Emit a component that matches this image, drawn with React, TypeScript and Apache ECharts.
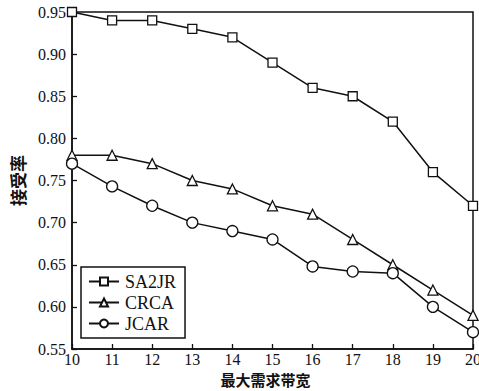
import React, { useEffect, useRef } from "react";
import * as echarts from "echarts";

const xValues = [10, 11, 12, 13, 14, 15, 16, 17, 18, 19, 20];
const sa2jr = [0.95, 0.94, 0.94, 0.93, 0.92, 0.89, 0.86, 0.85, 0.82, 0.76, 0.72];
const crca = [0.78, 0.78, 0.77, 0.75, 0.74, 0.72, 0.71, 0.68, 0.65, 0.62, 0.59];
const jcar = [0.77, 0.743, 0.72, 0.70, 0.69, 0.68, 0.648, 0.642, 0.64, 0.60, 0.57];
const seriesNames = ["SA2JR", "CRCA", "JCAR"];

const SERIF = "'Liberation Serif', 'DejaVu Serif', serif";
const CJK = "'Noto Sans CJK SC', sans-serif";

export default function App() {
  const ref = useRef<HTMLDivElement>(null);
  useEffect(() => {
    if (!ref.current) return;
    const chart = echarts.init(ref.current, undefined, { renderer: "svg" });
    const mk = (name: string, data: number[], symbol: string, size: number) => ({
      name,
      type: "line",
      data: xValues.map((x, i) => [x, data[i]]),
      symbol,
      symbolSize: size,
      showAllSymbol: true,
      lineStyle: { color: "#111", width: 1.5 },
      itemStyle: { color: "#fff", borderColor: "#111", borderWidth: 1.3 },
      z: 3,
    });
    chart.setOption({
      animation: false,
      backgroundColor: "#fff",
      grid: {
        left: 72, right: 6, top: 12, bottom: 42,
        outerBoundsMode: "none",
        containLabel: false,
        show: true, borderColor: "#111", borderWidth: 1.5, backgroundColor: "transparent",
      },
      legend: {
        orient: "vertical",
        left: 81,
        top: 267,
        data: seriesNames,
        borderColor: "#111",
        borderWidth: 1.5,
        padding: [4, 9, 4, 7],
        itemGap: 0,
        itemWidth: 30,
        itemHeight: 10,
        textStyle: { fontFamily: SERIF, fontSize: 18, lineHeight: 21, color: "#111", padding: [0, 0, 0, 1] },
        backgroundColor: "#fff",
      },
      xAxis: {
        type: "value",
        min: 10,
        max: 20,
        interval: 1,
        name: "最大需求带宽",
        nameLocation: "middle",
        nameGap: 22,
        nameMoveOverlap: false,
        nameTextStyle: { fontFamily: CJK, fontSize: 15, lineHeight: 16, color: "#111", fontWeight: "bold", padding: [0, 14, 0, 0] },
        axisLine: { lineStyle: { color: "#111", width: 1.5 } },
        axisTick: { inside: true, length: 5, lineStyle: { color: "#111", width: 1.3 } },
        axisLabel: { fontFamily: SERIF, fontSize: 16, lineHeight: 16, color: "#111", margin: 2 },
        splitLine: { show: false },
      },
      yAxis: {
        type: "value",
        min: 0.55,
        max: 0.95,
        interval: 0.05,
        name: "接受率",
        nameLocation: "middle",
        nameGap: 46,
        nameRotate: 90,
        nameMoveOverlap: false,
        nameTextStyle: { fontFamily: CJK, fontSize: 17, color: "#111", fontWeight: "bold" },
        axisLine: { lineStyle: { color: "#111", width: 1.5 } },
        axisTick: { inside: true, length: 5, lineStyle: { color: "#111", width: 1.3 } },
        axisLabel: { fontFamily: SERIF, fontSize: 16, color: "#111", margin: 6, formatter: (v: number) => v.toFixed(2) },
        splitLine: { show: false },
      },
      series: [
        mk("SA2JR", sa2jr, "rect", 9),
        mk("CRCA", crca, "triangle", 10),
        mk("JCAR", jcar, "circle", 11),
      ],
    });
    return () => chart.dispose();
  }, []);
  return <div ref={ref} style={{ width: 479, height: 391, position: "absolute", left: 0, top: 0 }} />;
}
